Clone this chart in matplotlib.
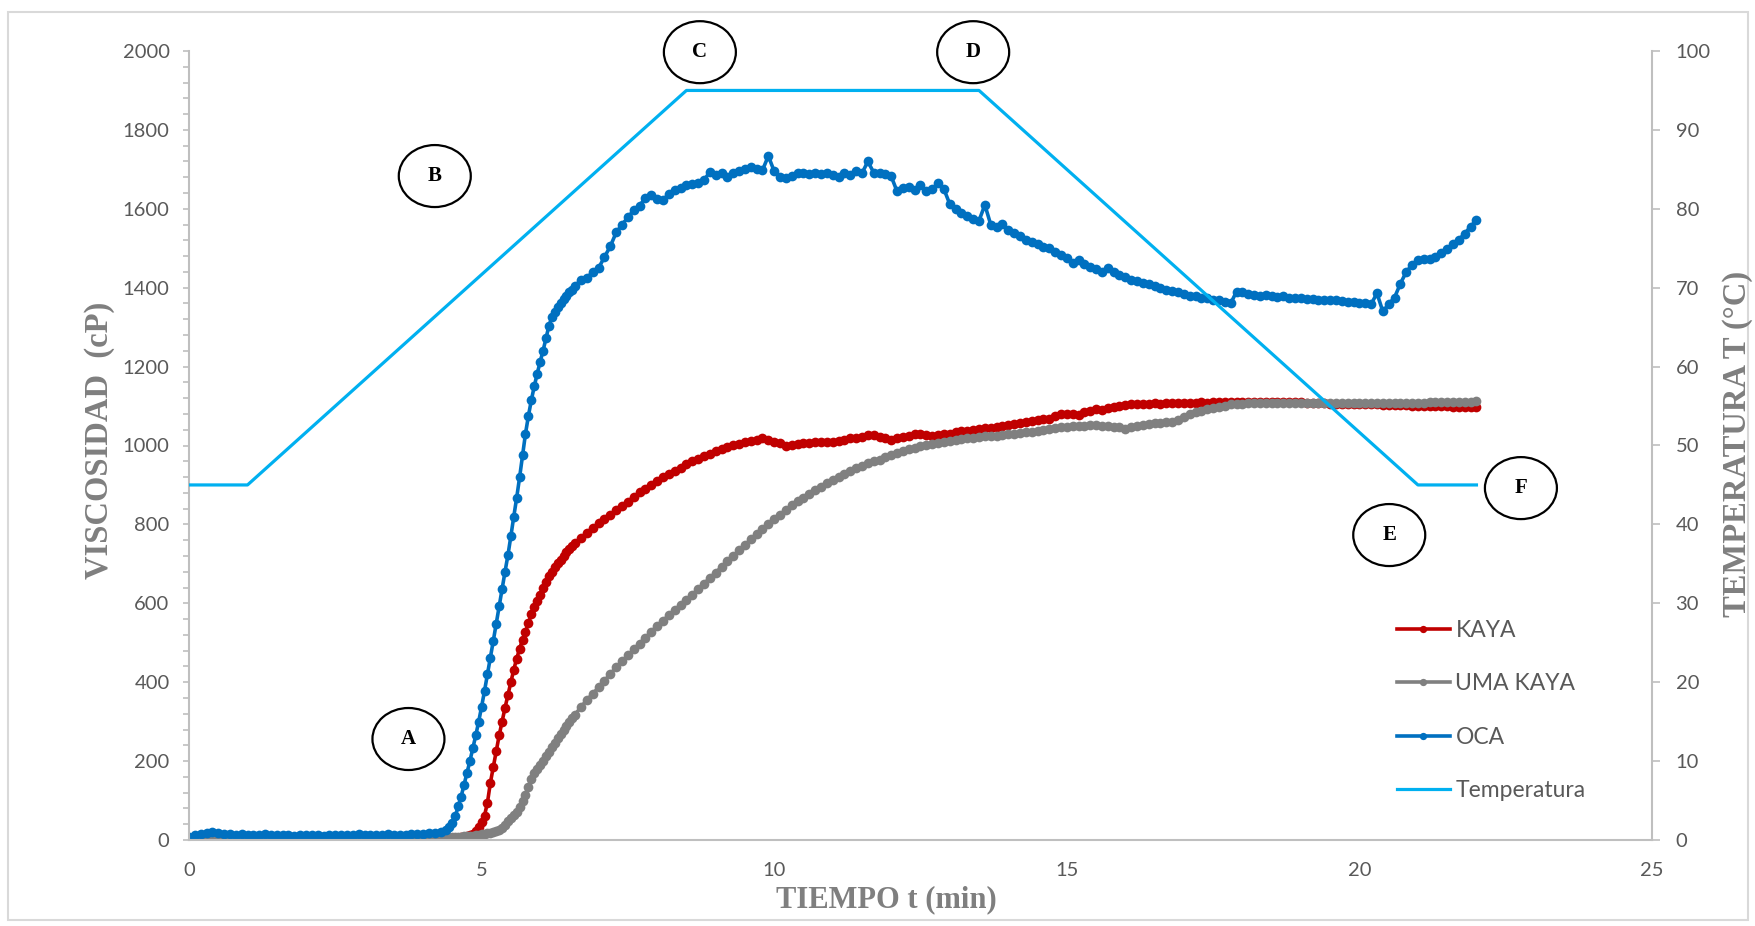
import numpy as np
import matplotlib
matplotlib.use("Agg")
import matplotlib.pyplot as plt
from matplotlib.patches import Ellipse, Rectangle
from matplotlib.ticker import MultipleLocator

# time grid (min): 0.1 min steps, 0.05 min steps through the pasting rise
time = np.concatenate([
    np.linspace(0.0, 4.3, 44),
    np.linspace(4.4, 6.55, 44),
    np.linspace(6.6, 22.0, 155),
])

# viscosity (cP)
kaya = [
    0, 2, 1, 0, 0, 3, 1, 0, 0, 2, 0, 1, 0, 0, 2, 0, 0, 1, 3, 0,
    0, 1, 0, 2, 0, 0, 1, 0, 3, 1, 0, 0, 2, 0, 1, 0, 0, 2, 1, 0,
    1, 2, 2, 3,
    # 4.40 - 6.55
    3, 4, 5, 5, 6, 7, 8, 10, 12, 16, 22, 32, 45, 62, 95, 145, 185, 225, 265, 300,
    335, 368, 400, 432, 460, 485, 508, 528, 550, 572, 590, 606, 620, 638, 654, 668, 680, 691, 701, 711,
    720, 729, 737, 745,
    # 6.6 - 22.0
    753, 766, 779, 791, 803, 814, 825, 836, 847, 858,
    870, 881, 891, 901, 910, 919, 928, 936, 944, 952,
    960, 967, 973, 978, 985, 990, 996, 1001, 1005, 1008,
    1012, 1015, 1018, 1014, 1010, 1006, 1000, 1001, 1003, 1006,
    1006, 1008, 1008, 1010, 1010, 1012, 1015, 1018, 1020, 1022,
    1026, 1027, 1022, 1018, 1015, 1018, 1022, 1025, 1028, 1029,
    1026, 1025, 1027, 1028, 1030, 1033, 1036, 1038, 1040, 1042,
    1044, 1045, 1047, 1049, 1052, 1055, 1057, 1060, 1062, 1065,
    1066, 1068, 1075, 1080, 1081, 1080, 1077, 1085, 1088, 1092,
    1090, 1094, 1098, 1100, 1103, 1105, 1106, 1105, 1106, 1107,
    1106, 1107, 1108, 1107, 1108, 1108, 1108, 1109, 1108, 1109,
    1110, 1110, 1110, 1111, 1110, 1111, 1110, 1111, 1111, 1110,
    1110, 1109, 1110, 1109, 1109, 1108, 1108, 1107, 1107, 1106,
    1106, 1106, 1105, 1105, 1105, 1104, 1104, 1104, 1103, 1103,
    1103, 1102, 1102, 1101, 1101, 1100, 1100, 1100, 1099, 1099,
    1098, 1098, 1097, 1097, 1097,
]

uma_kaya = [
    5, 6, 7, 6, 6, 7, 6, 5, 6, 6, 7, 6, 6, 5, 6, 7, 6, 6, 6, 5,
    6, 7, 6, 6, 5, 6, 6, 7, 6, 6, 5, 6, 6, 7, 6, 6, 5, 6, 6, 6,
    6, 6, 6, 6,
    # 4.40 - 6.55
    6, 6, 7, 7, 8, 8, 9, 10, 10, 11, 12, 13, 14, 15, 17, 18, 20, 22, 25, 30,
    38, 48, 56, 64, 72, 84, 98, 115, 135, 155, 170, 180, 190, 200, 212, 224, 236, 247, 258, 269,
    280, 290, 300, 308,
    # 6.6 - 22.0
    318, 338, 355, 371, 387, 404, 421, 438, 453, 468,
    483, 498, 513, 528, 543, 556, 570, 583, 596, 608,
    622, 636, 650, 664, 678, 692, 706, 720, 734, 748,
    762, 776, 789, 801, 813, 825, 837, 848, 859, 868,
    877, 886, 895, 904, 912, 920, 928, 935, 942, 949,
    955, 960, 964, 970, 976, 981, 986, 990, 994, 998,
    1001, 1004, 1007, 1010, 1012, 1014, 1016, 1018, 1020, 1022,
    1023, 1024, 1025, 1026, 1028, 1030, 1032, 1033, 1035, 1037,
    1039, 1041, 1044, 1046, 1048, 1049, 1050, 1050, 1051, 1051,
    1050, 1050, 1048, 1046, 1043, 1046, 1050, 1052, 1054, 1056,
    1058, 1059, 1060, 1065, 1072, 1080, 1084, 1088, 1092, 1095,
    1098, 1101, 1104, 1105, 1106, 1107, 1107, 1107, 1108, 1108,
    1108, 1108, 1108, 1108, 1108, 1107, 1107, 1107, 1107, 1107,
    1107, 1107, 1107, 1107, 1107, 1107, 1107, 1107, 1107, 1107,
    1107, 1107, 1108, 1108, 1108, 1108, 1109, 1109, 1109, 1110,
    1110, 1110, 1111, 1111, 1112,
]

oca = [
    8, 12, 14, 18, 20, 17, 15, 14, 13, 14, 13, 12, 13, 14, 12, 12, 13, 12, 11, 12,
    13, 12, 12, 11, 12, 13, 12, 12, 13, 14, 13, 12, 12, 13, 14, 13, 12, 13, 14, 15,
    16, 17, 18, 20,
    # 4.40 - 6.55
    25, 32, 42, 60, 85, 110, 140, 170, 200, 232, 265, 300, 338, 378, 420, 462, 505, 548, 592, 636,
    680, 722, 770, 820, 868, 920, 975, 1030, 1075, 1115, 1150, 1182, 1212, 1240, 1272, 1303, 1325, 1338, 1350, 1362,
    1372, 1380, 1388, 1395,
    # 6.6 - 22.0
    1405, 1420, 1425, 1440, 1450, 1478, 1505, 1540, 1560, 1578,
    1597, 1608, 1628, 1635, 1625, 1622, 1638, 1648, 1652, 1660,
    1662, 1665, 1672, 1694, 1685, 1690, 1680, 1690, 1696, 1700,
    1707, 1700, 1698, 1734, 1695, 1680, 1677, 1683, 1690, 1690,
    1687, 1690, 1688, 1692, 1686, 1680, 1690, 1686, 1695, 1690,
    1720, 1692, 1690, 1688, 1682, 1644, 1652, 1655, 1648, 1660,
    1645, 1650, 1665, 1650, 1612, 1600, 1590, 1582, 1575, 1570,
    1610, 1560, 1555, 1562, 1545, 1538, 1530, 1522, 1517, 1510,
    1502, 1500, 1490, 1482, 1475, 1462, 1470, 1460, 1452, 1448,
    1440, 1449, 1440, 1432, 1428, 1420, 1418, 1412, 1410, 1405,
    1400, 1394, 1392, 1388, 1385, 1380, 1378, 1375, 1373, 1370,
    1368, 1365, 1360, 1390, 1388, 1385, 1382, 1380, 1381, 1378,
    1376, 1378, 1375, 1374, 1373, 1372, 1372, 1370, 1370, 1369,
    1368, 1366, 1365, 1363, 1362, 1360, 1358, 1386, 1340, 1358,
    1375, 1410, 1440, 1458, 1470, 1474, 1472, 1478, 1488, 1498,
    1510, 1522, 1537, 1555, 1572,
]

# temperature profile (°C)
temp_time = [0, 1, 8.5, 13.5, 21, 22]
temp_vals = [45, 45, 95, 95, 45, 45]

# stage markers: label, time, viscosity
stage_labels = ["A", "B", "C", "D", "E", "F"]
stage_t = [3.75, 4.20, 8.73, 13.40, 20.51, 22.76]
stage_v = [256, 1683, 1997, 1997, 773, 892]

W, H = 1756, 926
TICK_GRAY = '#595959'
AXIS_GRAY = '#BFBFBF'
LABEL_GRAY = '#7F7F7F'
SANS = 'Lato'
SERIF = 'Liberation Serif'

fig = plt.figure(figsize=(W / 100, H / 100), dpi=100)
ax = fig.add_axes([189 / W, 86 / H, 1463 / W, 789 / H])
ax2 = ax.twinx()

style = dict(marker='o', markersize=7, markeredgewidth=0, linewidth=2.6)
ax.plot(time, kaya, color='#C00000', label='KAYA', **style)
ax.plot(time, uma_kaya, color='#808080', label='UMA KAYA', **style)
ax.plot(time, oca, color='#0070C0', label='OCA', **style)
ax2.plot(temp_time, temp_vals, color='#00B0F0', linewidth=2.3, label='Temperatura')

ax.set_xlim(0, 25)
ax.set_ylim(0, 2000)
ax2.set_ylim(0, 100)
ax.set_xticks(range(0, 26, 5))
ax.set_yticks(range(0, 2001, 200))
ax.yaxis.set_minor_locator(MultipleLocator(40))
ax2.set_yticks(range(0, 101, 10))

for a in (ax, ax2):
    for s in a.spines.values():
        s.set_visible(False)
ax.spines['left'].set_visible(True)
ax.spines['bottom'].set_visible(True)
ax2.spines['right'].set_visible(True)
for s in (ax.spines['left'], ax.spines['bottom'], ax2.spines['right']):
    s.set_color(AXIS_GRAY)
    s.set_linewidth(1.5)

ax.tick_params(axis='y', which='both', direction='out', length=4, width=1.2,
               color=AXIS_GRAY, labelsize=14.5, labelcolor=TICK_GRAY, pad=10)
ax.tick_params(axis='x', length=0, labelsize=14.5, labelcolor=TICK_GRAY, pad=16)
ax2.tick_params(axis='y', direction='out', length=6, width=1.2, color=AXIS_GRAY,
                labelsize=14.5, labelcolor=TICK_GRAY, pad=11)
for lab in ax.get_xticklabels() + ax.get_yticklabels() + ax2.get_yticklabels():
    lab.set_fontfamily(SANS)

# stage circles
ew = 72 / (1463 / 25)
eh = 62 / (789 / 2000)
for lab, t, v in zip(stage_labels, stage_t, stage_v):
    ax.add_patch(Ellipse((t, v), ew, eh, fill=False, edgecolor='black',
                         linewidth=1.6, clip_on=False, zorder=5))
    ax.text(t, v, lab, ha='center', va='center', fontsize=15, fontweight='bold',
            family=SERIF, color='black', zorder=6)

# axis titles
fig.text(100 / W, 1 - 440 / H, 'VISCOSIDAD  (cP)', rotation=90, ha='center', va='center',
         fontsize=23.5, fontweight='bold', family=SERIF, color=LABEL_GRAY)
fig.text(1738 / W, 1 - 444 / H, 'TEMPERATURA T (°C)', rotation=90, ha='center', va='center',
         fontsize=23.5, fontweight='bold', family=SERIF, color=LABEL_GRAY)
fig.text(886 / W, 1 - 900 / H, 'TIEMPO t (min)', ha='center', va='center',
         fontsize=22, fontweight='bold', family=SERIF, color=LABEL_GRAY)

h1, l1 = ax.get_legend_handles_labels()
h2, l2 = ax2.get_legend_handles_labels()
leg = ax2.legend(h1 + h2, l1 + l2, loc='center left',
                 bbox_to_anchor=(1397 / W, 1 - 710.5 / H), bbox_transform=fig.transFigure,
                 frameon=False, numpoints=1, handlelength=2.3, handletextpad=0.25,
                 labelspacing=1.41, borderpad=0, borderaxespad=0, markerscale=0.75,
                 prop={'family': SANS, 'size': 16.5})
for txt in leg.get_texts():
    txt.set_color(TICK_GRAY)

# outer chart border
fig.add_artist(Rectangle((8 / W, 6 / H), 1740 / W, 908 / H, transform=fig.transFigure,
                         fill=False, edgecolor='#D9D9D9', linewidth=1.5))

fig.savefig('out.png', dpi=100)
